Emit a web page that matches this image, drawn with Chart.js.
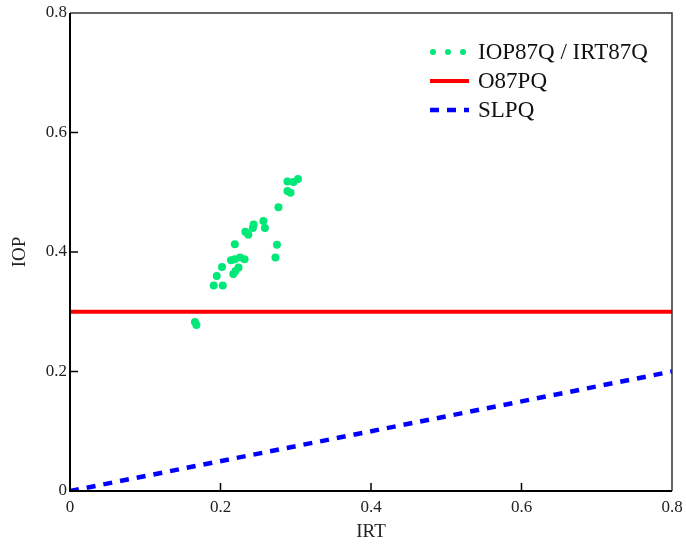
<!DOCTYPE html>
<html>
<head>
<meta charset="utf-8">
<script src="https://cdn.jsdelivr.net/npm/chart.js@4/dist/chart.umd.min.js"></script>
<style>
  html, body { margin: 0; padding: 0; background: #fff; }
</style>
</head>
<body>
<canvas id="myChart" width="686" height="546"></canvas>
<script>
const irt87q = [0.289, 0.297, 0.303, 0.289, 0.293, 0.277, 0.257, 0.259, 0.244, 0.243,
                0.233, 0.237, 0.219, 0.275, 0.273, 0.214, 0.219, 0.226, 0.232, 0.224,
                0.202, 0.217, 0.220, 0.195, 0.191, 0.203, 0.166, 0.168];
const iop87q = [0.518, 0.517, 0.522, 0.502, 0.499, 0.475, 0.452, 0.440, 0.446, 0.440,
                0.434, 0.429, 0.413, 0.412, 0.391, 0.386, 0.388, 0.391, 0.388, 0.374,
                0.375, 0.363, 0.368, 0.360, 0.344, 0.344, 0.283, 0.278];
const o87pqX = [0, 0.8];
const o87pqY = [0.3, 0.3];
const slpqX = [0, 0.8];
const slpqY = [0, 0.2];
const tickValues = [0, 0.2, 0.4, 0.6, 0.8];
const tickLabels = ['0', '0.2', '0.4', '0.6', '0.8'];
const seriesNames = ['IOP87Q / IRT87Q', 'O87PQ', 'SLPQ'];

const serif = 'Liberation Serif, Times New Roman, serif';
const toPoints = (xs, ys) => xs.map((x, i) => ({ x: x, y: ys[i] }));
const tickText = v => {
    const k = tickValues.indexOf(Math.round(v * 10) / 10);
    return k < 0 ? '' : tickLabels[k];
};

// frame, inward ticks and the legend box
const mathcadLook = {
    id: 'mathcadLook',
    afterDraw(chart) {
        const ctx = chart.ctx, a = chart.chartArea;
        const xs = chart.scales.x, ys = chart.scales.y;
        ctx.save();
        ctx.strokeStyle = '#333';
        ctx.lineWidth = 1.5;
        ctx.beginPath();
        ctx.moveTo(a.left, a.top); ctx.lineTo(a.right, a.top); ctx.lineTo(a.right, a.bottom);
        ctx.stroke();
        ctx.strokeStyle = '#000';
        ctx.lineWidth = 2;
        ctx.beginPath();
        ctx.moveTo(a.left, a.top); ctx.lineTo(a.left, a.bottom); ctx.lineTo(a.right, a.bottom);
        ctx.stroke();
        ctx.lineWidth = 1.5;
        ctx.beginPath();
        xs.ticks.forEach(t => {
            const px = xs.getPixelForValue(t.value);
            if (px > a.left + 2 && px < a.right - 2) { ctx.moveTo(px, a.bottom); ctx.lineTo(px, a.bottom - 8); }
        });
        ys.ticks.forEach(t => {
            const py = ys.getPixelForValue(t.value);
            if (py > a.top + 2 && py < a.bottom - 2) { ctx.moveTo(a.left, py); ctx.lineTo(a.left + 8, py); }
        });
        ctx.stroke();

        // legend
        const x0 = a.right - 242, tx = a.right - 194;
        ctx.font = '23px ' + serif;
        ctx.textBaseline = 'middle';
        chart.data.datasets.forEach((ds, i) => {
            const y = a.top + 39 + i * 29;
            if (ds.showLine) {
                ctx.strokeStyle = ds.borderColor;
                ctx.lineWidth = ds.borderWidth;
                ctx.setLineDash(ds.borderDash || []);
                ctx.beginPath(); ctx.moveTo(x0, y); ctx.lineTo(x0 + 39, y); ctx.stroke();
                ctx.setLineDash([]);
            } else {
                ctx.fillStyle = ds.backgroundColor;
                [3, 18, 33].forEach(d => {
                    ctx.beginPath(); ctx.arc(x0 + d, y, 3, 0, Math.PI * 2); ctx.fill();
                });
            }
            ctx.fillStyle = '#111';
            ctx.fillText(ds.label, tx, y + 1);
        });
        ctx.restore();
    }
};

const ctx = document.getElementById('myChart').getContext('2d');
const chart = new Chart(ctx, {
    type: 'scatter',
    data: {
        datasets: [{
            label: seriesNames[0],
            data: toPoints(irt87q, iop87q),
            showLine: false,
            pointRadius: 4,
            pointHoverRadius: 4,
            borderWidth: 0,
            backgroundColor: 'rgb(0, 232, 120)',
            borderColor: 'rgb(0, 232, 120)'
        }, {
            label: seriesNames[1],
            data: toPoints(o87pqX, o87pqY),
            showLine: true,
            pointRadius: 0,
            borderWidth: 4,
            borderColor: '#ff0000'
        }, {
            label: seriesNames[2],
            data: toPoints(slpqX, slpqY),
            showLine: true,
            pointRadius: 0,
            borderWidth: 4.5,
            borderDash: [9, 8],
            borderColor: '#0000ff'
        }]
    },
    options: {
        responsive: false,
        animation: false,
        devicePixelRatio: 1,
        layout: { padding: { top: 13, right: 14, left: 0, bottom: 0 } },
        plugins: { legend: { display: false }, tooltip: { enabled: false } },
        scales: {
            x: {
                type: 'linear', min: 0, max: 0.8,
                afterFit: s => { s.height = 55; s.paddingLeft = 0; s.paddingRight = 0; },
                grid: { display: false, drawTicks: false },
                border: { display: false },
                ticks: { stepSize: 0.2, padding: 6, color: '#222', font: { family: serif, size: 17 }, callback: tickText },
                title: { display: true, text: 'IRT', color: '#222', font: { family: serif, size: 19 }, padding: { top: 0, bottom: 3 } }
            },
            y: {
                type: 'linear', min: 0, max: 0.8,
                afterFit: s => { s.width = 70; s.paddingTop = 0; s.paddingBottom = 0; },
                grid: { display: false, drawTicks: false },
                border: { display: false },
                ticks: { stepSize: 0.2, padding: 3, color: '#222', font: { family: serif, size: 17 }, callback: tickText },
                title: { display: true, text: 'IOP', color: '#222', font: { family: serif, size: 19 }, padding: { bottom: 0, top: 9 } }
            }
        }
    },
    plugins: [mathcadLook]
});
</script>
</body>
</html>
